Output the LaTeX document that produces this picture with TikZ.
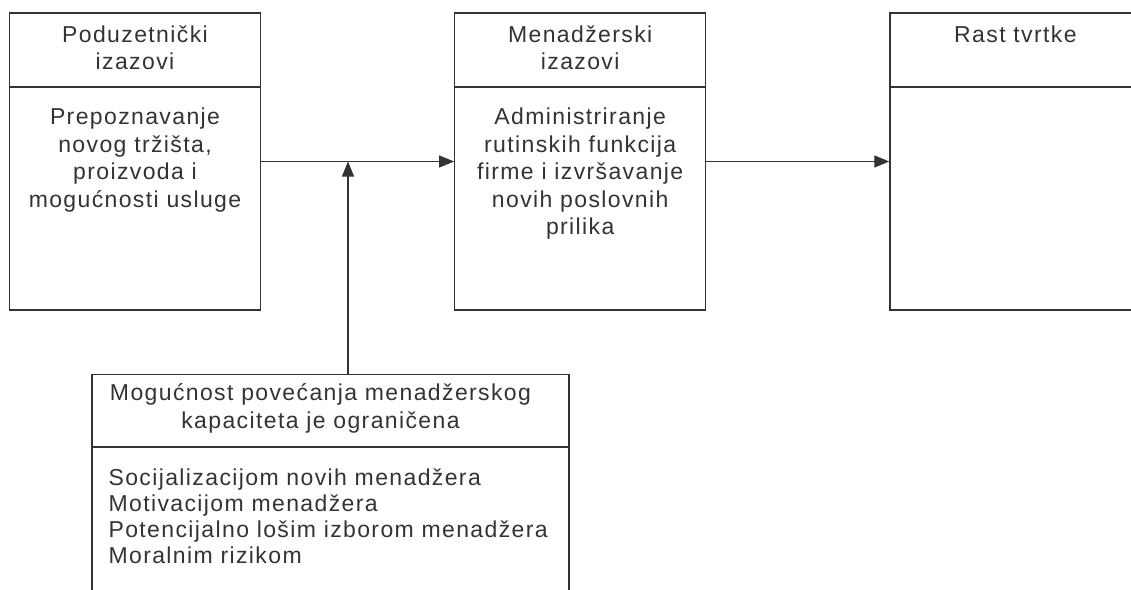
\documentclass[tikz,border=0pt]{standalone}
\usepackage{fontspec}
\setmainfont{Liberation Sans}[LetterSpace=6]
\usetikzlibrary{arrows.meta,positioning}
\definecolor{tamna}{HTML}{333333}
\tikzset{
  dij/okvir/.style={draw=tamna, line width=1.2pt, rectangle, inner sep=0pt, minimum width=251pt, minimum height=297pt},
  dij/crta/.style={draw=tamna, line width=1.2pt},
  dij/naslov/.style={text=tamna, inner sep=0pt, align=center, font={\fontsize{23pt}{27.5pt}\selectfont}},
  dij/opis/.style={dij/naslov, align=left, font={\fontsize{23pt}{26pt}\selectfont}},
  dij/strelica/.style={draw=tamna, line width=1.2pt, -{Triangle[length=15pt, width=12pt]}}
}

\begin{document}
\begin{tikzpicture}[x=1pt, y=-1pt, node distance=3pt and 3pt]
  \useasboundingbox (0,0) rectangle (1131,589);
  \clip (0,0) rectangle (1131,589);

  % okviri
  \node[dij/okvir] (poduz) at (135,161.5) {};
  \node[dij/okvir, right=193pt of poduz] (menadz) {};
  \node[dij/okvir, right=183pt of menadz] (rast) {};
  \node[dij/okvir, anchor=north, minimum width=477pt, minimum height=260pt] (ogranic) at (330.5,374) {};

  \foreach \ime/\vis in {poduz/74.5pt, menadz/74.5pt, rast/74.5pt, ogranic/73pt}
    \draw[dij/crta] ([yshift=-\vis]\ime.north west) -- ([yshift=-\vis]\ime.north east);

  % tekstovi
  \node[dij/naslov, below=13pt of poduz.north] (poduz-naslov) {Poduzetnički\\izazovi};
  \node[dij/naslov, below=13pt of menadz.north] (menadz-naslov) {Menadžerski\\izazovi};
  \node[dij/naslov, below=13pt of rast.north] (rast-naslov) {Rast tvrtke};
  \node[dij/naslov, below=95.5pt of poduz.north] (poduz-opis)
    {Prepoznavanje\\novog tržišta,\\proizvoda i\\mogućnosti usluge};
  \node[dij/naslov, below=95.5pt of menadz.north] (menadz-opis)
    {Administriranje\\rutinskih funkcija\\firme i izvršavanje\\novih poslovnih\\prilika};
  \node[dij/naslov, below=9.5pt of ogranic.north, xshift=-10pt] (ogranic-naslov)
    {Mogućnost povećanja menadžerskog\\kapaciteta je ograničena};
  \node[dij/opis, below right=94.5pt and 17pt of ogranic.north west] (ogranic-opis)
    {Socijalizacijom novih menadžera\\Motivacijom menadžera\\Potencijalno lošim izborom menadžera\\Moralnim rizikom};

  % strelice
  \coordinate (spoj) at (348,161.5);
  \draw[dij/strelica] (poduz) -- (menadz);
  \draw[dij/strelica] (menadz) -- (rast);
  \draw[dij/strelica] (ogranic.north -| spoj) -- (spoj);
\end{tikzpicture}
\end{document}
